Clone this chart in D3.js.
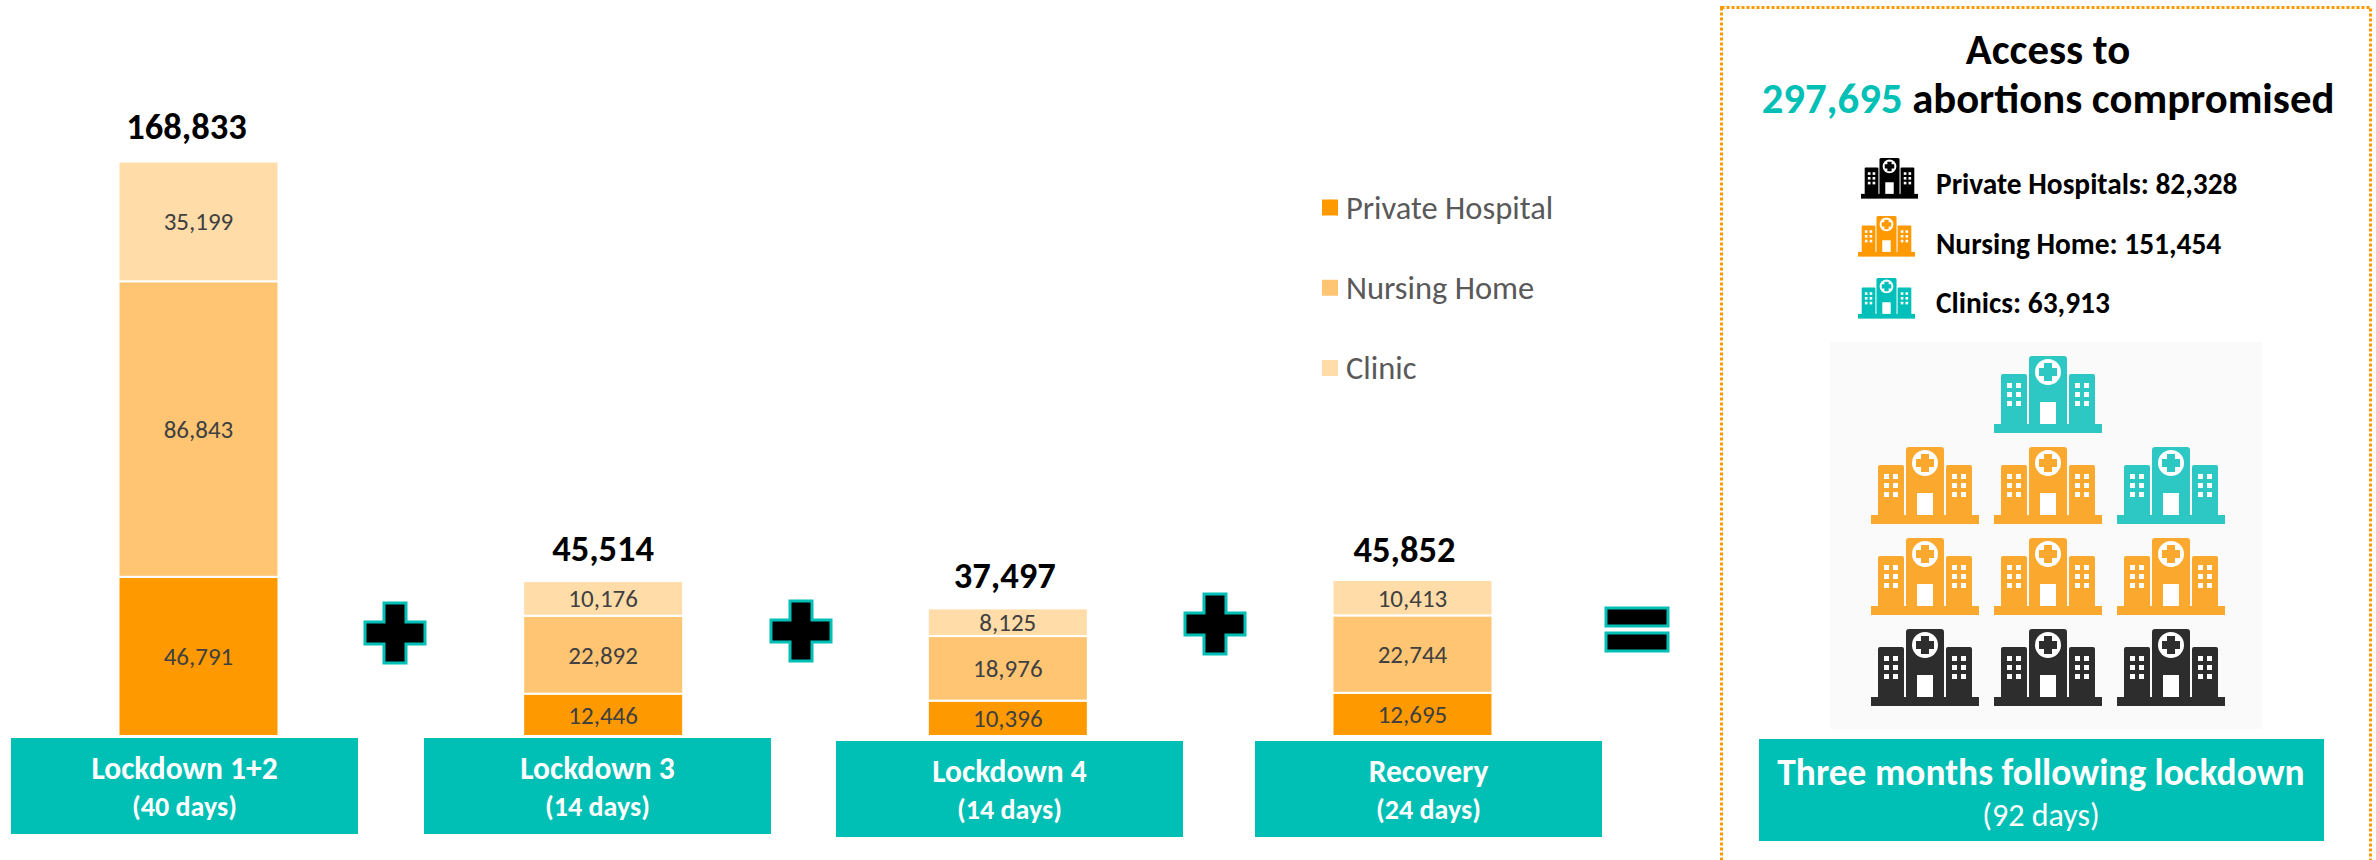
<!DOCTYPE html>
<html>
<head>
<meta charset="utf-8">
<script src="https://cdn.jsdelivr.net/npm/d3@7"></script>
<style>
  html, body { margin: 0; padding: 0; background: #fff; }
  svg { display: block; }
  text { font-family: Carlito, Lato, "Open Sans", sans-serif; }
</style>
</head>
<body>
<svg width="2376" height="860"></svg>
<script>
const phases = ["Lockdown 1+2", "Lockdown 3", "Lockdown 4", "Recovery"];
const phaseDays = ["(40 days)", "(14 days)", "(14 days)", "(24 days)"];
const privateHospital = [46791, 12446, 10396, 12695];
const nursingHome = [86843, 22892, 18976, 22744];
const clinic = [35199, 10176, 8125, 10413];
const totals = [168833, 45514, 37497, 45852];

const seriesNames = ["Private Hospital", "Nursing Home", "Clinic"];
const seriesColors = ["#ff9900", "#ffc573", "#ffdca8"];

const summaryLabels = ["Private Hospitals: 82,328", "Nursing Home: 151,454", "Clinics: 63,913"];
const iconGrid = [
  [null, "clinic", null],
  ["nursing", "nursing", "clinic"],
  ["nursing", "nursing", "nursing"],
  ["private", "private", "private"]
];

const teal = "#00c0b5";
const svg = d3.select("svg");

const x = d3.scalePoint().domain(phases).range([198.5, 1412.5]);
const y = d3.scaleLinear().domain([0, 168833]).range([736, 161.5]);
const barW = 160;

const table = phases.map((p, i) => ({
  phase: p,
  "Private Hospital": privateHospital[i],
  "Nursing Home": nursingHome[i],
  "Clinic": clinic[i]
}));
const stacked = d3.stack().keys(seriesNames)(table);
const color = d3.scaleOrdinal(seriesNames, seriesColors);
const fmt = d3.format(",");

// stacked bars
const layer = svg.selectAll(".layer")
  .data(stacked)
  .enter().append("g")
  .attr("class", "layer")
  .attr("fill", d => color(d.key));

layer.selectAll("rect")
  .data(d => d)
  .enter().append("rect")
  .attr("x", d => x(d.data.phase) - barW / 2)
  .attr("y", d => y(d[1]))
  .attr("width", barW)
  .attr("height", d => y(d[0]) - y(d[1]))
  .attr("stroke", "#fff")
  .attr("stroke-width", 2);

layer.selectAll("text")
  .data(d => d)
  .enter().append("text")
  .attr("x", d => x(d.data.phase))
  .attr("y", d => (y(d[0]) + y(d[1])) / 2 + 9)
  .attr("text-anchor", "middle")
  .attr("font-size", 25)
  .attr("fill", "#404040")
  .text(d => fmt(d[1] - d[0]));

// totals above the bars
const totalShift = [-12, 0, -3, -8];
const totalDrop = [0, 3, 3, 5];
svg.selectAll(".total")
  .data(totals)
  .enter().append("text")
  .attr("class", "total")
  .attr("x", (d, i) => x(phases[i]) + totalShift[i])
  .attr("y", (d, i) => y(d) - 23 + totalDrop[i])
  .attr("text-anchor", "middle")
  .attr("font-size", 36.5)
  .attr("font-weight", 700)
  .attr("fill", "#000")
  .text(fmt);

// teal phase boxes
const boxX = [11, 424, 836, 1255];
const boxY = [738, 738, 741, 741];
const boxes = svg.selectAll(".phase")
  .data(phases)
  .enter().append("g")
  .attr("class", "phase")
  .attr("transform", (d, i) => `translate(${boxX[i]},${boxY[i]})`);
boxes.append("rect").attr("width", 347).attr("height", 96).attr("fill", teal);
boxes.append("text")
  .attr("x", 173.5).attr("y", 41)
  .attr("text-anchor", "middle")
  .attr("font-size", 31.5).attr("font-weight", 700).attr("fill", "#fff")
  .text(d => d);
boxes.append("text")
  .attr("x", 173.5).attr("y", 78)
  .attr("text-anchor", "middle")
  .attr("font-size", 28).attr("font-weight", 700).attr("fill", "#fff")
  .text((d, i) => phaseDays[i]);

// plus and equals signs
const plusPath = "M-11,-30H11V-11H30V11H11V30H-11V11H-30V-11H-11Z";
[[395, 633], [801, 631], [1215, 624]].forEach(c => {
  svg.append("path")
    .attr("d", plusPath)
    .attr("transform", `translate(${c[0]},${c[1]})`)
    .attr("fill", "#000").attr("stroke", teal).attr("stroke-width", 3);
});
[608, 633].forEach(top => {
  svg.append("rect")
    .attr("x", 1606).attr("y", top).attr("width", 62).attr("height", 18)
    .attr("fill", "#000").attr("stroke", teal).attr("stroke-width", 3);
});

// legend
const legendY = d3.scalePoint().domain(seriesNames).range([207.5, 368]);
const legend = svg.selectAll(".legend")
  .data(seriesNames)
  .enter().append("g")
  .attr("class", "legend")
  .attr("transform", d => `translate(1322,${legendY(d)})`);
legend.append("rect")
  .attr("y", -8).attr("width", 16).attr("height", 16)
  .attr("fill", d => color(d));
legend.append("text")
  .attr("x", 24).attr("y", 11)
  .attr("font-size", 32.5).attr("fill", "#595959")
  .text(d => d);

// right panel
svg.append("rect")
  .attr("x", 1721.5).attr("y", 7.5).attr("width", 649).attr("height", 870)
  .attr("fill", "none")
  .attr("stroke", "#ff9900").attr("stroke-width", 3).attr("stroke-dasharray", "3 2");

svg.append("text")
  .attr("x", 2048).attr("y", 64)
  .attr("text-anchor", "middle")
  .attr("font-size", 42.8).attr("font-weight", 700)
  .text("Access to");

const headline = svg.append("text")
  .attr("x", 2048).attr("y", 113)
  .attr("text-anchor", "middle")
  .attr("font-size", 42.7).attr("font-weight", 700);
headline.append("tspan").attr("fill", teal).text("297,695");
headline.append("tspan").attr("fill", "#000").text(" abortions compromised");

function drawIcon(g, w, fill) {
  const k = w / 108;
  const a = g.append("g").attr("transform", `scale(${k})`);
  a.append("rect").attr("y", 68).attr("width", 108).attr("height", 9).attr("fill", fill);
  a.append("rect").attr("x", 7).attr("y", 18).attr("width", 26).attr("height", 52).attr("rx", 2).attr("fill", fill);
  a.append("rect").attr("x", 75).attr("y", 18).attr("width", 26).attr("height", 52).attr("rx", 2).attr("fill", fill);
  a.append("rect").attr("x", 35).attr("y", 0).attr("width", 38).attr("height", 70).attr("rx", 3).attr("fill", fill);
  a.append("circle").attr("cx", 54).attr("cy", 16).attr("r", 13).attr("fill", "#fff");
  a.append("path").attr("d", "M50,7H58V12H63V20H58V25H50V20H45V12H50Z").attr("fill", fill);
  a.append("rect").attr("x", 46).attr("y", 46).attr("width", 16).attr("height", 22).attr("fill", "#fff");
  [13, 22, 81, 90].forEach(wx => {
    [27, 36, 45].forEach(wy => {
      a.append("rect").attr("x", wx).attr("y", wy).attr("width", 5).attr("height", 5).attr("fill", "#fff");
    });
  });
}

// small key icons with their counts
const keyColors = ["#000000", "#ff9900", "#00c0b9"];
const keyY = [158, 216, 278];
const keyX = [1861, 1858, 1858];
const keyTextY = [194, 254, 313];
summaryLabels.forEach((label, i) => {
  const g = svg.append("g").attr("transform", `translate(${keyX[i]},${keyY[i]})`);
  drawIcon(g, 57, keyColors[i]);
  svg.append("text")
    .attr("x", 1936).attr("y", keyTextY[i])
    .attr("font-size", 29.4).attr("font-weight", 700).attr("fill", "#000")
    .text(label);
});

// pictogram
svg.append("rect")
  .attr("x", 1830).attr("y", 342).attr("width", 432).attr("height", 387)
  .attr("fill", "#fafafa");

const iconColor = { clinic: "#2ec8c4", nursing: "#fba82f", private: "#2d2d2d" };
const colX = d3.scalePoint().domain([0, 1, 2]).range([1871, 2117]);
const rowY = d3.scalePoint().domain([0, 1, 2, 3]).range([356, 629]);
iconGrid.forEach((row, r) => {
  row.forEach((type, c) => {
    if (!type) return;
    const g = svg.append("g").attr("transform", `translate(${colX(c)},${rowY(r)})`);
    drawIcon(g, 108, iconColor[type]);
  });
});

// bottom box of the panel
svg.append("rect")
  .attr("x", 1759).attr("y", 739).attr("width", 565).attr("height", 102)
  .attr("fill", teal);
svg.append("text")
  .attr("x", 2041).attr("y", 785)
  .attr("text-anchor", "middle")
  .attr("font-size", 37.4).attr("font-weight", 700).attr("fill", "#fff")
  .text("Three months following lockdown");
svg.append("text")
  .attr("x", 2041).attr("y", 826)
  .attr("text-anchor", "middle")
  .attr("font-size", 32).attr("fill", "#fff")
  .text("(92 days)");
</script>
</body>
</html>
